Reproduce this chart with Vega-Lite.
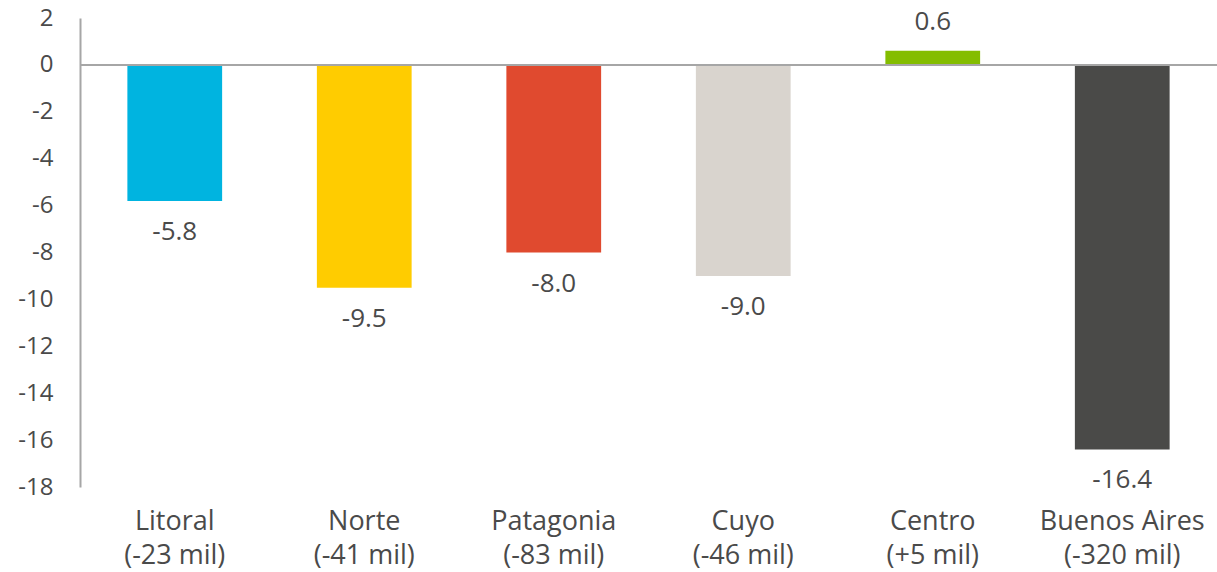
{
  "$schema": "https://vega.github.io/schema/vega-lite/v6.json",
  "autosize": "none",
  "width": 1137,
  "height": 469,
  "padding": {"left": 80, "top": 18, "right": 0, "bottom": 85},
  "background": "white",
  "config": {"view": {"stroke": null}, "font": "Open Sans"},
  "data": {"values": [
    {"region": "Litoral|(-23 mil)", "value": -5.8, "label": "-5.8"},
    {"region": "Norte|(-41 mil)", "value": -9.5, "label": "-9.5"},
    {"region": "Patagonia|(-83 mil)", "value": -8.0, "label": "-8.0"},
    {"region": "Cuyo|(-46 mil)", "value": -9.0, "label": "-9.0"},
    {"region": "Centro|(+5 mil)", "value": 0.6, "label": "0.6"},
    {"region": "Buenos Aires|(-320 mil)", "value": -16.4, "label": "-16.4"}
  ]},
  "encoding": {
    "x": {"field": "region", "type": "nominal", "sort": null,
      "scale": {"paddingInner": 0.5, "paddingOuter": 0.25},
      "axis": {"title": null, "domain": false, "ticks": false, "labelAngle": 0,
        "labelExpr": "split(datum.label, '|')", "labelFontSize": 27, "labelColor": "#4a4a4a",
        "labelPadding": 21, "labelLineHeight": 34, "labelFont": "Open Sans"}}
  },
  "layer": [
    {
      "mark": {"type": "bar"},
      "encoding": {
        "y": {"field": "value", "type": "quantitative",
          "scale": {"domain": [-18, 2], "nice": false, "zero": false},
          "axis": {"title": null, "grid": false, "ticks": false, "domain": true,
            "domainColor": "#a6a6a6", "domainWidth": 2,
            "values": [-18, -16, -14, -12, -10, -8, -6, -4, -2, 0, 2],
            "labelExpr": "'' + datum.value",
            "labelFontSize": 24, "labelColor": "#4a4a4a", "labelPadding": 27, "labelFont": "Open Sans"}},
        "color": {"field": "region", "type": "nominal", "legend": null,
          "scale": {"domain": ["Litoral|(-23 mil)", "Norte|(-41 mil)", "Patagonia|(-83 mil)", "Cuyo|(-46 mil)", "Centro|(+5 mil)", "Buenos Aires|(-320 mil)"],
            "range": ["#00b4e0", "#ffcc00", "#e04a2f", "#d9d4ce", "#84bd00", "#4a4a48"]}}
      }
    },
    {
      "data": {"values": [{"z": 0}]},
      "mark": {"type": "rule", "color": "#a6a6a6", "strokeWidth": 2},
      "encoding": {"x": null, "y": {"field": "z", "type": "quantitative"}}
    },
    {
      "transform": [{"filter": "datum.value < 0"}],
      "mark": {"type": "text", "baseline": "middle", "dy": 31, "fontSize": 26, "color": "#4a4a4a"},
      "encoding": {"y": {"field": "value", "type": "quantitative"}, "text": {"field": "label"}}
    },
    {
      "transform": [{"filter": "datum.value >= 0"}],
      "mark": {"type": "text", "baseline": "middle", "dy": -29, "fontSize": 26, "color": "#4a4a4a"},
      "encoding": {"y": {"field": "value", "type": "quantitative"}, "text": {"field": "label"}}
    }
  ]
}
